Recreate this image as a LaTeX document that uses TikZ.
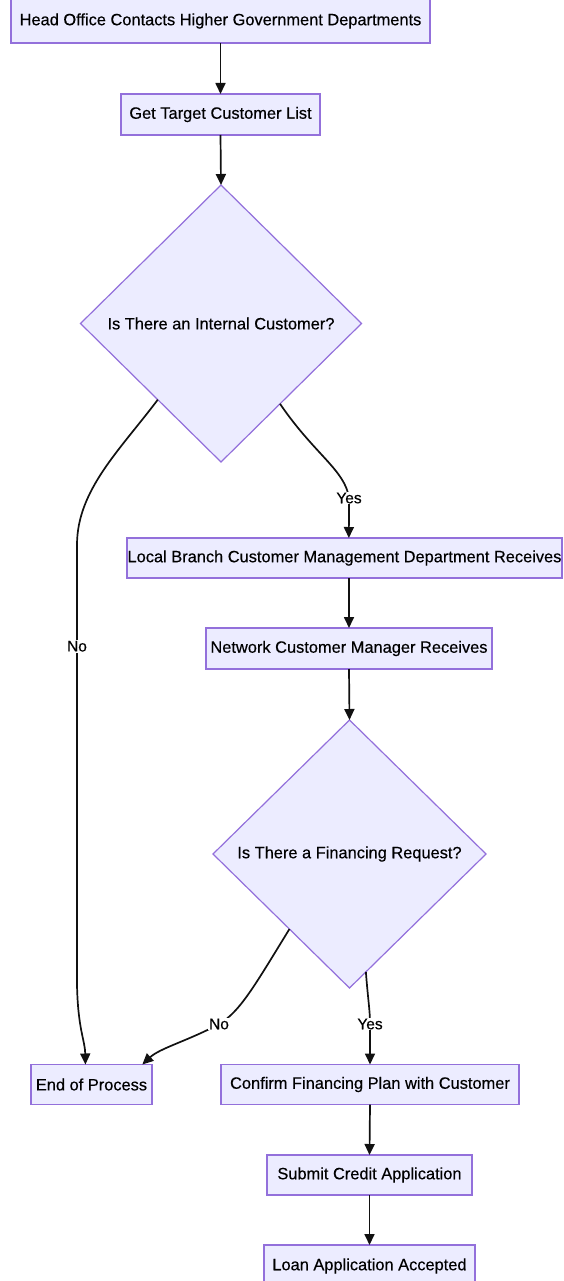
\documentclass[tikz,border=0pt]{standalone}
\usepackage{fontspec}
\setmainfont{Liberation Sans}[FakeBold=0.35]
\newfontfamily\diagfont{Liberation Sans}[FakeBold=0.35]
\usetikzlibrary{shapes.geometric,arrows.meta,calc}
\definecolor{nodefill}{HTML}{ECECFF}
\definecolor{nodeline}{HTML}{9370DB}
\definecolor{edgecol}{HTML}{111111}
\begin{document}
\begin{tikzpicture}[x=1pt,y=-1pt,
  procbox/.style={draw=nodeline, fill=nodefill, line width=1.2pt, rectangle,
    inner sep=0pt, outer sep=0pt, text=black, font=\diagfont\fontsize{16.4}{19}\selectfont},
  decbox/.style={draw=nodeline, fill=nodefill, line width=1.2pt, diamond,
    inner sep=0pt, outer sep=0pt, text=black, font=\diagfont\fontsize{16.4}{19}\selectfont},
  flow/.style={draw=edgecol, line width=1.7pt, -{Triangle[length=11pt,width=10pt]}},
  lbl/.style={fill=white, inner sep=1pt, text=black, font=\diagfont\fontsize{15.5}{18}\selectfont}]
\useasboundingbox (0,0) rectangle (564,1281);
\clip (0,0) rectangle (564,1281);
% nodes
\node[procbox, minimum width=419pt, minimum height=44pt] (b1) at (220.5,21) {Head Office Contacts Higher Government Departments};
\node[procbox, minimum width=199pt, minimum height=41pt] (b2) at (220.5,114.5) {Get Target Customer List};
\node[decbox, minimum width=281pt, minimum height=277pt] (d1) at (221,323.5) {Is There an Internal Customer?};
\node[procbox, minimum width=435pt, minimum height=40pt] (b3) at (344.5,558) {Local Branch Customer Management Department Receives};
\node[procbox, minimum width=286pt, minimum height=41pt] (b4) at (349,648.5) {Network Customer Manager Receives};
\node[decbox, minimum width=273pt, minimum height=268pt] (d2) at (349.5,854) {Is There a Financing Request?};
\node[procbox, minimum width=121pt, minimum height=40pt] (b5) at (91.5,1084.5) {End of Process};
\node[procbox, minimum width=298pt, minimum height=40pt] (b6) at (370,1084.5) {Confirm Financing Plan with Customer};
\node[procbox, minimum width=205pt, minimum height=40pt] (b7) at (369.5,1175) {Submit Credit Application};
\node[procbox, minimum width=211pt, minimum height=42pt] (b8) at (369.5,1266) {Loan Application Accepted};
% connector end points
\coordinate (d1no) at ($(d1.west)!0.55!(d1.south)$);
\coordinate (d1yes) at ($(d1.east)!0.58!(d1.south)$);
\coordinate (d2no) at ($(d2.west)!0.56!(d2.south)$);
\coordinate (d2yes) at ($(d2.east)!0.88!(d2.south)$);
\coordinate (b5a) at ($(b5.north west)!0.45!(b5.north east)$);
\coordinate (b5b) at ($(b5.north west)!0.92!(b5.north east)$);
\coordinate (b3in) at ($(b3.north west)!0.51!(b3.north east)$);
% connectors
\draw[flow] (b1.south) -- (b2.north);
\draw[flow] (b2.south) -- (d1.north);
\draw[flow] (d1no) .. controls (120,450) and (77,490) .. (77,545)
  -- node[lbl, pos=0.23] {No} (77,985) .. controls (78,1030) and (85,1040) .. (b5a);
\draw[flow] (d1yes) .. controls (315,455) and (345,470) .. (349,498)
  node[lbl] {Yes} -- (b3in);
\draw[flow] (b4.north |- b3.south) -- (b4.north);
\draw[flow] (b4.south) -- (d2.north);
\draw[flow] (d2no) .. controls (255,985) and (240,1012) .. (219,1024)
  node[lbl] {No} .. controls (190,1040) and (160,1048) .. (b5b);
\draw[flow] (d2yes) .. controls (368,1000) and (370,1010) .. (370,1024)
  node[lbl] {Yes} -- (b6.north);
\draw[flow] (b6.south) -- (b7.north);
\draw[flow] (b7.south) -- (b8.north);
\end{tikzpicture}
\end{document}
